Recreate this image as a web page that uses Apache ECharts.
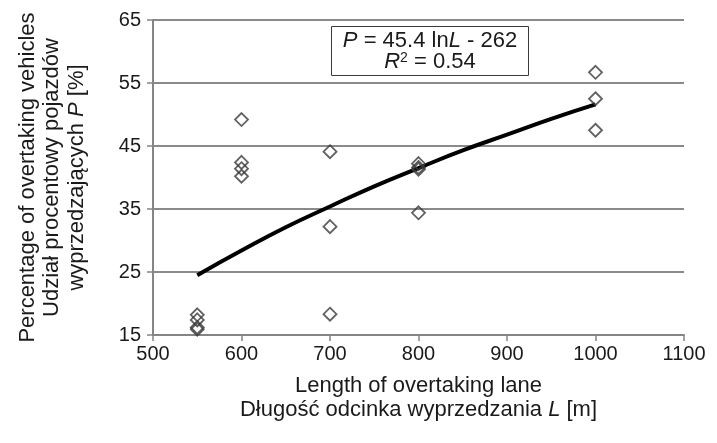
<!DOCTYPE html>
<html>
<head>
<meta charset="utf-8">
<script src="https://cdn.jsdelivr.net/npm/echarts@6/dist/echarts.min.js"></script>
<style>
html,body{margin:0;padding:0;background:#fff;}
#c{width:717px;height:443px;}
</style>
</head>
<body>
<div id="c"></div>
<script>
// Observed data (length L [m], share P [%])
const obsL = [550, 550, 550, 550, 600, 600, 600, 600, 700, 700, 700, 800, 800, 800, 800, 1000, 1000, 1000];
const obsP = [18.2, 17.4, 16.2, 15.9, 49.2, 42.4, 41.4, 40.2, 44.1, 32.2, 18.3, 42.2, 41.6, 41.3, 34.4, 56.7, 52.5, 47.5];
// Trend line
const trendL = [550, 600, 650, 700, 750, 800, 850, 900, 950, 1000];
const trendP = [24.5, 28.4, 32.1, 35.4, 38.6, 41.5, 44.3, 46.8, 49.3, 51.6];
const xTicks = [500, 600, 700, 800, 900, 1000, 1100];
const yTicks = [15, 25, 35, 45, 55, 65];

const font = '"Liberation Sans", Arial, sans-serif';
const txt = '#1a1a1a';
const chart = echarts.init(document.getElementById('c'));
chart.setOption({
  animation: false,
  backgroundColor: '#fff',
  grid: {left: 153, right: 33, top: 20, bottom: 108},
  xAxis: {
    type: 'value', min: xTicks[0], max: xTicks[xTicks.length - 1], interval: 100,
    axisLine: {show: true, lineStyle: {color: '#858585', width: 2}},
    axisTick: {show: true, length: 6, lineStyle: {color: '#858585', width: 1.5}},
    splitLine: {show: false},
    axisLabel: {color: txt, fontSize: 20, fontFamily: font, margin: 9, formatter: v => String(v)},
    name: '{a|Length of overtaking lane}\n{a|Długość odcinka wyprzedzania }{i|L}{a| [m]}',
    nameLocation: 'middle', nameGap: 39,
    nameTextStyle: {
      fontFamily: font, color: txt, fontSize: 22, lineHeight: 24,
      rich: {
        a: {fontFamily: font, fontSize: 22, color: txt, lineHeight: 24},
        i: {fontFamily: font, fontSize: 22, color: txt, fontStyle: 'italic', lineHeight: 24}
      }
    }
  },
  yAxis: {
    type: 'value', min: yTicks[0], max: yTicks[yTicks.length - 1], interval: 10,
    axisLine: {show: true, lineStyle: {color: '#858585', width: 2}},
    axisTick: {show: true, length: 6, lineStyle: {color: '#858585', width: 1.5}},
    splitLine: {show: true, lineStyle: {color: '#8a8a8a', width: 2}},
    axisLabel: {color: txt, fontSize: 20, fontFamily: font, margin: 12, formatter: v => String(v)},
    name: '{a|Percentage of overtaking vehicles}\n{a|Udział procentowy pojazdów}\n{a|wyprzedzających }{i|P}{a| [%]}',
    nameLocation: 'middle', nameGap: 64, nameRotate: 90,
    nameTextStyle: {
      fontFamily: font, color: txt, fontSize: 22, lineHeight: 24.5,
      rich: {
        a: {fontFamily: font, fontSize: 22, color: txt, lineHeight: 24.5},
        i: {fontFamily: font, fontSize: 22, color: txt, fontStyle: 'italic', lineHeight: 24.5}
      }
    }
  },
  series: [
    {
      type: 'line', smooth: true, symbol: 'none', z: 2,
      lineStyle: {color: '#000', width: 4},
      data: trendL.map((l, i) => [l, trendP[i]])
    },
    {
      type: 'scatter', symbol: 'diamond', symbolSize: 13, z: 3,
      itemStyle: {color: 'rgba(255,255,255,0)', borderColor: '#3a3a3a', borderWidth: 1.8},
      data: obsL.map((l, i) => [l, obsP[i]])
    }
  ],
  graphic: [{
    type: 'group', left: 331, top: 26, z: 10,
    children: [
      {type: 'rect', shape: {x: 0, y: 0, width: 197, height: 49},
       style: {fill: '#fff', stroke: '#3a3a3a', lineWidth: 1}},
      {type: 'text', x: 98.5, y: 25,
       style: {
         text: '{i|P}{a| = 45.4 ln}{i|L}{a| - 262}\n{i|R}{s|2}{a| = 0.54}',
         align: 'center', verticalAlign: 'middle',
         rich: {
           a: {fontFamily: font, fontSize: 22, fill: txt, lineHeight: 21},
           i: {fontFamily: font, fontSize: 22, fill: txt, fontStyle: 'italic', lineHeight: 21},
           s: {fontFamily: font, fontSize: 14, fill: txt, verticalAlign: 'top', lineHeight: 21, padding: [0,0,8,0]}
         }
       }}
    ]
  }]
});
</script>
</body>
</html>
